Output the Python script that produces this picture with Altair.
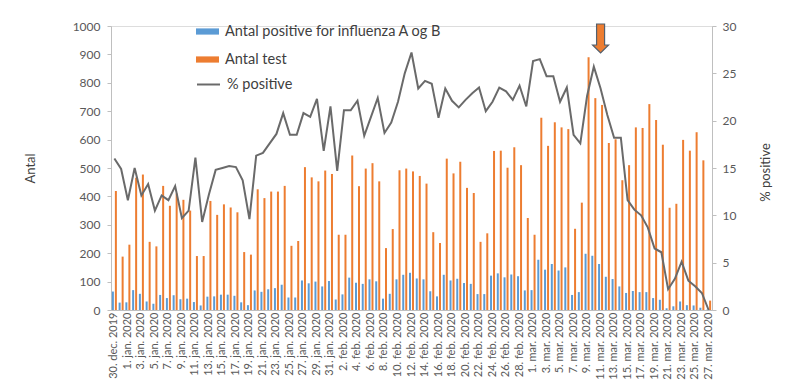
import altair as alt
import pandas as pd

FONT = "Lato"
BLUE = "#5B9BD5"
ORANGE = "#ED7D31"
GREY_LINE = "#6A6A6A"

months = {12: "dec.", 1: "jan.", 2: "feb.", 3: "mar."}
dates = pd.date_range("2019-12-30", "2020-03-27", freq="D")
categories = [f"{d.day}. {months[d.month]} {d.year}" for d in dates]

antal_test = [
    419, 188, 230, 466, 477, 240, 224, 437, 367, 410, 388, 350, 190, 190, 384,
    335, 372, 361, 344, 204, 195, 425, 394, 417, 417, 437, 226, 243, 503, 467,
    453, 491, 479, 265, 265, 544, 436, 498, 517, 453, 218, 285, 492, 498, 488,
    472, 445, 274, 236, 533, 481, 522, 430, 412, 240, 270, 560, 561, 501, 573,
    510, 324, 265, 677, 578, 661, 643, 637, 286, 378, 890, 746, 722, 588, 601,
    457, 510, 643, 641, 725, 669, 582, 360, 374, 599, 561, 626, 527, 33,
]
antal_positive = [
    65, 26, 27, 70, 57, 30, 22, 53, 42, 52, 38, 40, 28, 16, 47,
    48, 54, 54, 50, 27, 17, 69, 64, 73, 77, 89, 44, 44, 104, 94,
    100, 83, 102, 37, 55, 114, 96, 92, 108, 101, 40, 57, 108, 124, 131,
    111, 108, 66, 48, 124, 104, 110, 95, 92, 56, 56, 121, 129, 115, 125,
    119, 69, 70, 177, 142, 162, 139, 150, 53, 63, 198, 191, 162, 117, 109,
    83, 60, 67, 63, 63, 42, 36, 6, 13, 30, 17, 16, 8, 1,
]
pct_positive = [
    16.0, 14.9, 11.6, 15.0, 12.1, 13.3, 10.5, 12.1, 11.6, 13.1, 9.7, 10.5, 16.1, 9.3, 12.2,
    14.8, 15.0, 15.2, 15.1, 13.7, 9.6, 16.3, 16.6, 17.6, 18.6, 20.8, 18.5, 18.5, 20.8, 20.4,
    22.3, 16.8, 21.5, 14.7, 21.1, 21.1, 22.1, 18.4, 20.4, 22.4, 18.7, 19.8, 22.0, 25.0, 27.2,
    23.4, 24.2, 23.9, 20.3, 23.4, 22.1, 21.4, 22.2, 22.9, 23.5, 21.0, 22.0, 23.5, 23.1, 22.2,
    23.7, 21.5, 26.3, 26.5, 24.7, 24.7, 22.0, 23.5, 18.5, 17.6, 22.6, 25.7, 23.4, 20.6, 18.2,
    18.2, 11.6, 10.6, 10.0, 8.7, 6.5, 6.1, 2.2, 3.3, 5.1, 3.1, 2.5, 1.8, 0.0,
]

S_POS = "Antal positive for influenza A og B"
S_TEST = "Antal test"
S_PCT = "% positive"

# annotation arrow (date and level on the left axis)
arrow_date = ["11. mar. 2020"]
arrow_level = [956]

df = pd.DataFrame({
    "date": categories,
    S_POS: antal_positive,
    S_TEST: antal_test,
    "pct": pct_positive,
})
arrow_df = pd.DataFrame({"date": arrow_date, "level": arrow_level})

x_enc = alt.X(
    "date:N",
    sort=categories,
    scale=alt.Scale(paddingInner=0, paddingOuter=0),
    title=None,
    axis=alt.Axis(
        values=categories[::2],
        labelAngle=270,
        labelFontSize=11,
        labelColor="#595959",
        labelPadding=2,
        ticks=False,
        domainColor="#BFBFBF",
        labelFont=FONT,
        labelLimit=200,
    ),
)

left_y_scale = alt.Scale(domain=[0, 1000], nice=False)
left_axis = alt.Axis(
    title="Antal",
    values=list(range(0, 1001, 100)),
    format="d",
    grid=False,
    tickSize=4,
    labelPadding=7,
    labelFontSize=12,
    labelColor="#595959",
    domainColor="#BFBFBF",
    tickColor="#BFBFBF",
    titleFontSize=13,
    titleFontWeight="normal",
    titleColor="#404040",
    titleAngle=270,
    titleAlign="center",
    titleBaseline="middle",
    titleX=-81,
    titleY=142,
    labelFont=FONT,
    titleFont=FONT,
)

bar_symbol = "M -1 -0.27 L 1 -0.27 L 1 0.27 L -1 0.27 Z"

legend_common = dict(
    title=None,
    orient="none",
    legendX=85,
    direction="vertical",
    symbolSize=529,
    labelFontSize=14.5,
    labelColor="#404040",
    labelFont=FONT,
    labelOffset=6,
    labelLimit=400,
    padding=0,
)

bars = (
    alt.Chart(df)
    .transform_fold([S_POS, S_TEST], as_=["series", "value"])
    .mark_bar()
    .encode(
        x=x_enc,
        xOffset=alt.XOffset(
            "series:N",
            sort=[S_POS, S_TEST],
            scale=alt.Scale(paddingInner=0.333, paddingOuter=0.29),
        ),
        y=alt.Y("value:Q", scale=left_y_scale, axis=left_axis),
        color=alt.Color(
            "series:N",
            sort=[S_POS, S_TEST],
            scale=alt.Scale(domain=[S_POS, S_TEST], range=[BLUE, ORANGE]),
            legend=alt.Legend(
                legendY=-6,
                symbolType=bar_symbol,
                symbolStrokeWidth=0,
                rowPadding=10,
                **legend_common,
            ),
        ),
    )
)

arrow_shape = "M -0.276 -1 L 0.276 -1 L 0.276 0.45 L 0.55 0.45 L 0 1 L -0.55 0.45 L -0.276 0.45 Z"
arrow = (
    alt.Chart(arrow_df)
    .mark_point(shape=arrow_shape, size=841, filled=True, fill=ORANGE,
                stroke="#52606E", strokeWidth=1.2, opacity=1)
    .encode(
        x=alt.X("date:N", sort=categories),
        y=alt.Y("level:Q", scale=left_y_scale, axis=left_axis),
    )
)

line = (
    alt.Chart(df)
    .transform_calculate(metric="'% positive'")
    .mark_line(strokeWidth=2)
    .encode(
        x=alt.X("date:N", sort=categories),
        y=alt.Y(
            "pct:Q",
            scale=alt.Scale(domain=[0, 30], nice=False),
            axis=alt.Axis(
                orient="right",
                title=S_PCT,
                values=list(range(0, 31, 5)),
                grid=False,
                tickSize=4,
                labelPadding=6,
                labelFontSize=12,
                labelColor="#595959",
                domainColor="#BFBFBF",
                tickColor="#BFBFBF",
                titleFontSize=13,
                titleFontWeight="normal",
                titleColor="#404040",
                titleAngle=270,
                titleAlign="center",
                titleBaseline="middle",
                titleX=53,
                titleY=146,
                labelFont=FONT,
                titleFont=FONT,
            ),
        ),
        stroke=alt.Stroke(
            "metric:N",
            scale=alt.Scale(domain=[S_PCT], range=[GREY_LINE]),
            legend=alt.Legend(
                legendY=46,
                symbolType="stroke",
                symbolStrokeWidth=2,
                **legend_common,
            ),
        ),
    )
)

chart = (
    alt.layer(alt.layer(bars, arrow), line)
    .resolve_scale(y="independent")
    .properties(
        width=601,
        height=284,
        autosize=alt.AutoSizeParams(type="none"),
        padding={"left": 103, "top": 18, "right": 80, "bottom": 72},
        background="white",
    )
    .configure_view(stroke=None)
    .configure(font=FONT)
)

chart.save("out.html", embed_options={"renderer": "svg", "actions": False})
